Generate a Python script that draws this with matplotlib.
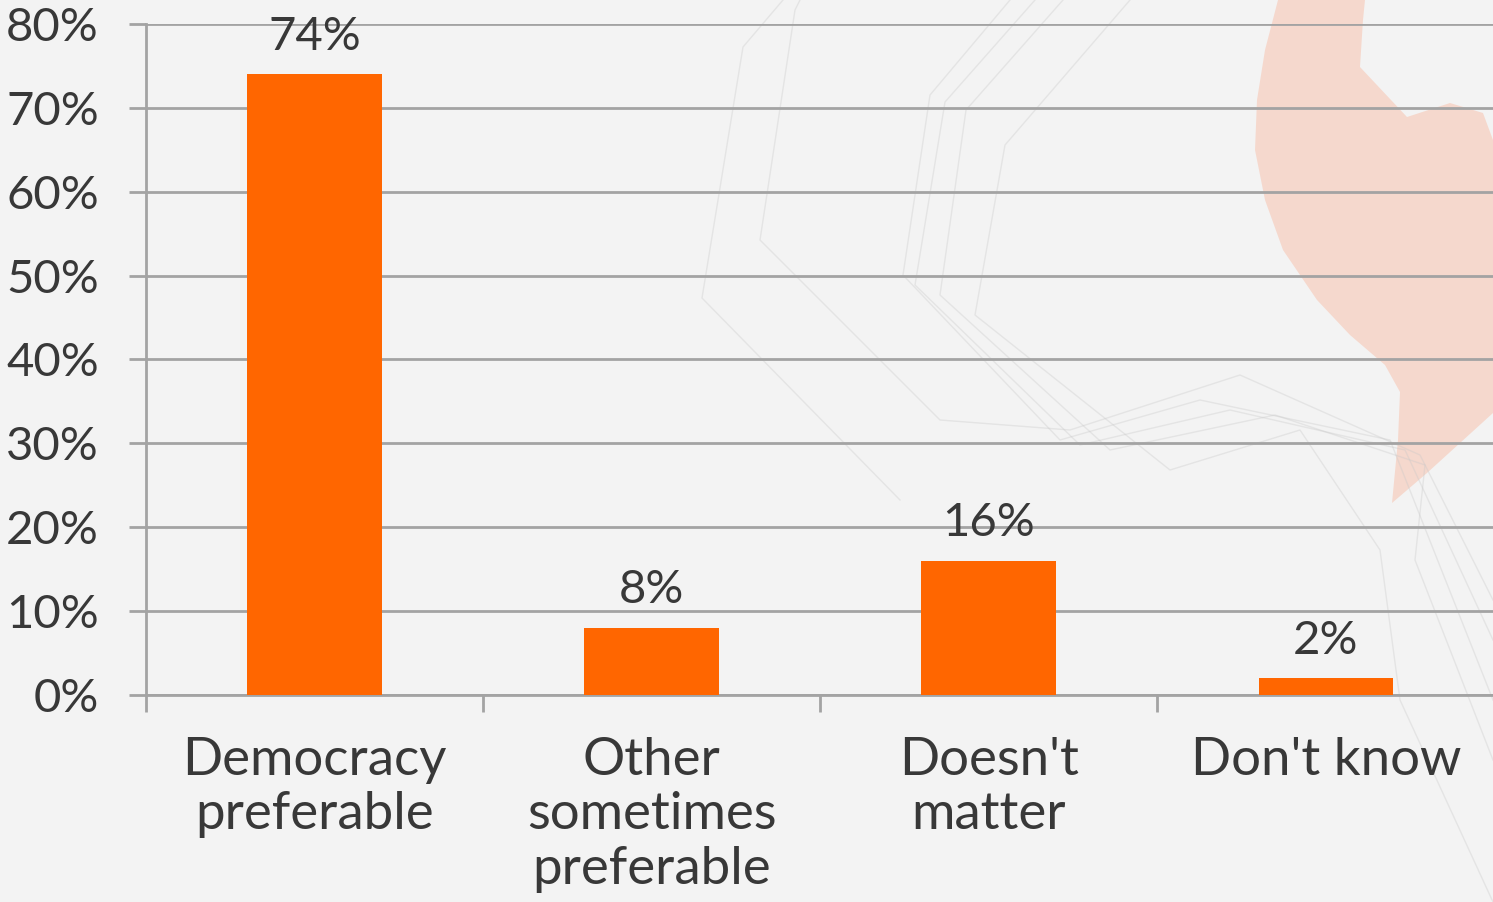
import matplotlib
matplotlib.use("Agg")
import matplotlib.pyplot as plt
from matplotlib.patches import Polygon
from matplotlib.ticker import FixedLocator, PercentFormatter

# Survey answers and shares (%)
categories = ["Democracy\npreferable", "Other\nsometimes\npreferable", "Doesn't\nmatter", "Don't know"]
shares = [74, 8, 16, 2]
y_ticks = [0, 10, 20, 30, 40, 50, 60, 70, 80]

BAR_COLOR = "#FF6600"
TEXT_COLOR = "#383838"
GRID_COLOR = "#A3A3A3"
BG_COLOR = "#F3F3F3"

plt.rcParams["font.family"] = ["Lato", "DejaVu Sans"]

W, H = 1493, 902
fig = plt.figure(figsize=(W / 100, H / 100), dpi=100)
fig.patch.set_facecolor(BG_COLOR)

# --- slide decoration behind the chart (figure pixel space, y down) ---
def px(points):
    return [(x / W, 1 - y / H) for x, y in points]

blob = [(1278, 0), (1265, 50), (1257, 100), (1255, 150), (1265, 200), (1283, 250),
        (1317, 300), (1350, 335), (1385, 365), (1400, 392), (1398, 440),
        (1392, 503), (1427, 473), (1493, 413), (1493, 140), (1483, 113),
        (1450, 103), (1407, 117), (1360, 67), (1363, 20), (1365, 0)]
fig.patches.append(Polygon(px(blob), closed=True, transform=fig.transFigure,
                           facecolor="#F6D2C4", edgecolor="none", alpha=0.8, zorder=-2))

deco_lines = [
    [(783, 0), (743, 47), (702, 298), (900, 500)],
    [(800, 0), (795, 10), (760, 240), (940, 420), (1070, 430), (1240, 375), (1420, 455), (1493, 600)],
    [(1010, 0), (930, 95), (903, 275), (1060, 440), (1200, 400), (1390, 440), (1493, 700)],
    [(1035, 0), (945, 102), (915, 285), (1080, 445), (1230, 410), (1405, 450), (1493, 640)],
    [(1063, 0), (966, 110), (940, 295), (1110, 450), (1275, 415), (1425, 465), (1415, 560), (1493, 760)],
    [(1130, 0), (1005, 145), (975, 315), (1170, 470), (1300, 430), (1380, 550), (1400, 700), (1493, 902)],
]
for pts in deco_lines:
    xs, ys = zip(*px(pts))
    fig.lines.append(plt.Line2D(xs, ys, transform=fig.transFigure, color="#C8C8C8",
                                linewidth=1.0, alpha=0.35, zorder=-1))

# --- chart ---
ax = fig.add_axes([146 / W, 1 - 695 / H, 1 - 146 / W + 0.001, (695 - 24) / H])
ax.set_facecolor("none")

x = range(len(categories))
bars = ax.bar(x, shares, width=0.4, color=BAR_COLOR, zorder=3)

for rect, val in zip(bars, shares):
    ax.annotate(f"{val}%", (rect.get_x() + rect.get_width() / 2, val),
                xytext=(0, 12), textcoords="offset points",
                ha="center", va="bottom", fontsize=34,
                color=TEXT_COLOR, zorder=4)

ax.set_xlim(-0.5, len(categories) - 0.5)
ax.set_ylim(0, 80)
ax.yaxis.set_major_locator(FixedLocator(y_ticks))
ax.yaxis.set_major_formatter(PercentFormatter(decimals=0))
ax.grid(axis="y", color=GRID_COLOR, linewidth=2, zorder=1)

# category ticks sit on the boundaries between groups
ax.set_xticks([i - 0.5 for i in range(len(categories) + 1)])
ax.set_xticklabels([])
ax.set_xticks(list(x), minor=True)
ax.set_xticklabels(categories, minor=True, fontsize=38,
                   color=TEXT_COLOR, linespacing=1.2)
ax.tick_params(axis="x", which="major", length=12, width=2, color=GRID_COLOR, direction="out")
ax.tick_params(axis="x", which="minor", length=0, pad=30)
ax.tick_params(axis="y", length=12, width=2, color=GRID_COLOR, pad=22,
               labelsize=34, labelcolor=TEXT_COLOR)

for side in ("top", "right"):
    ax.spines[side].set_visible(False)
for side in ("left", "bottom"):
    ax.spines[side].set_color(GRID_COLOR)
    ax.spines[side].set_linewidth(2)

fig.savefig("out.png", dpi=100, facecolor=fig.get_facecolor())
